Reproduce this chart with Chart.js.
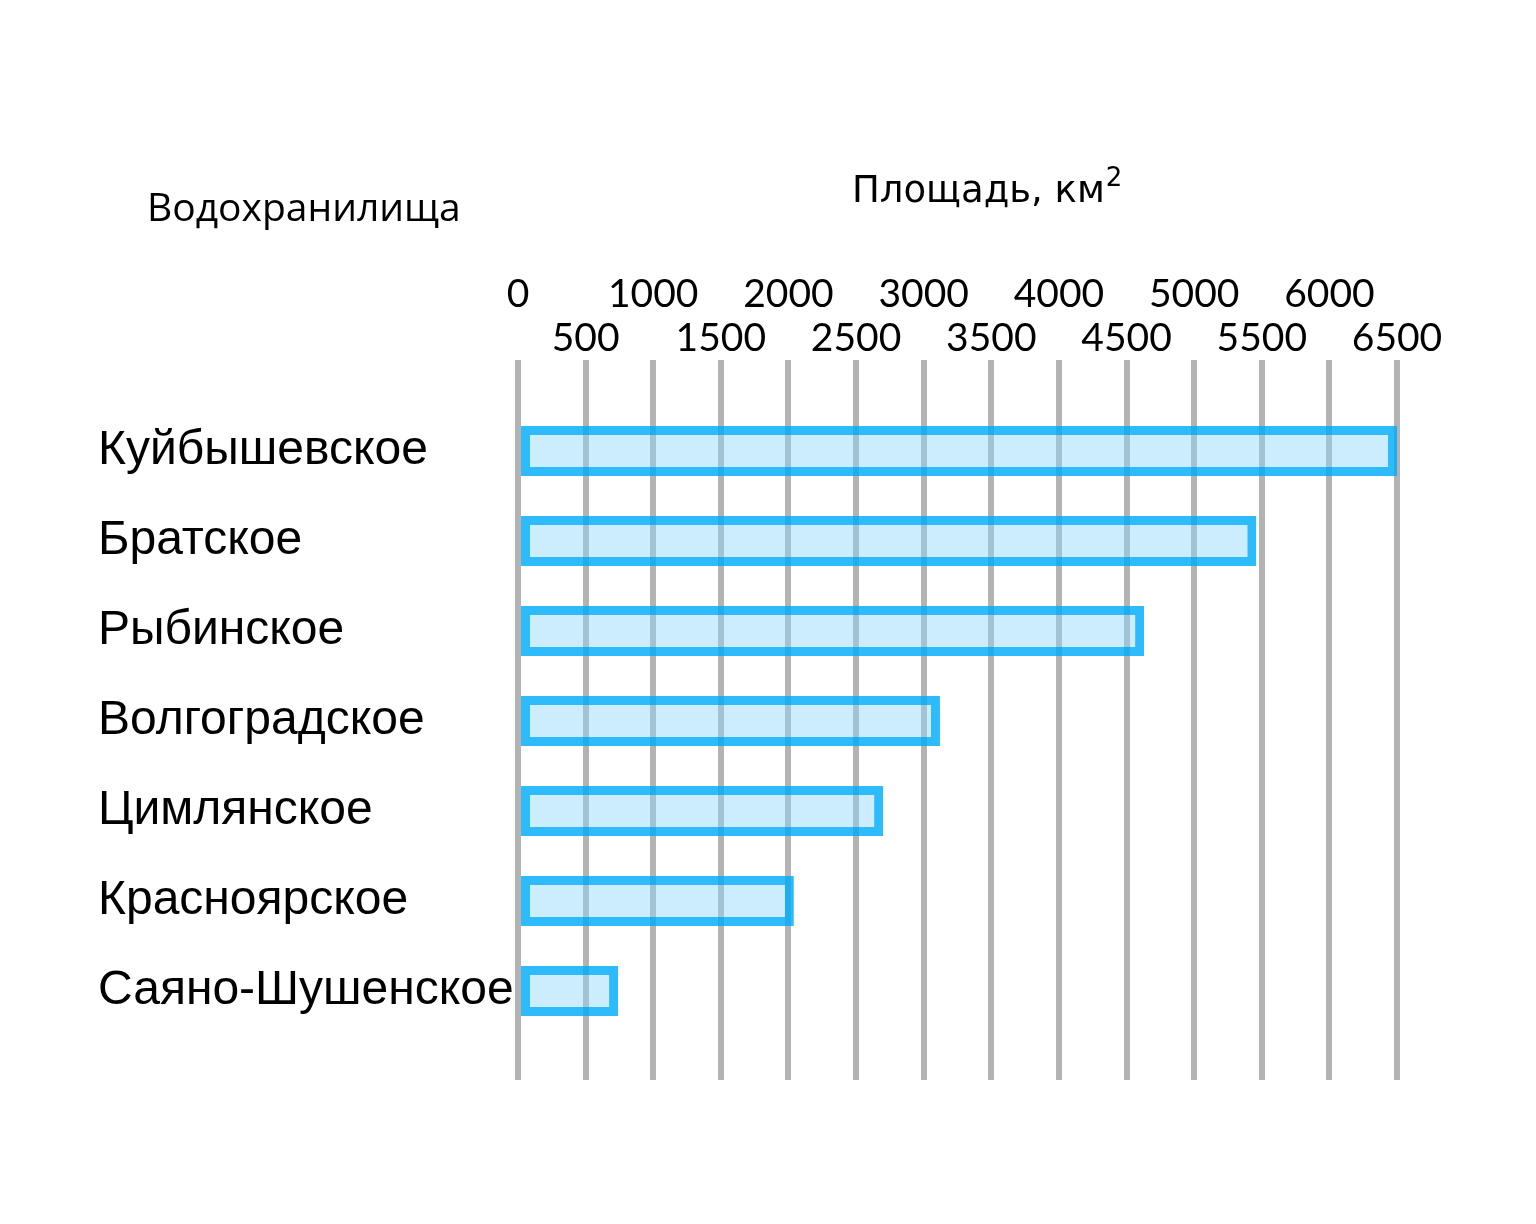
<!DOCTYPE html>
<html>
<head>
<meta charset="utf-8">
<script src="https://cdn.jsdelivr.net/npm/chart.js@4"></script>
<style>
  body { margin: 0; background: #fff; }
  #wrap { width: 1536px; height: 1224px; }
</style>
</head>
<body>
<div id="wrap"><canvas id="chart"></canvas></div>
<script>
const reservoirs = [
  "Куйбышевское",
  "Братское",
  "Рыбинское",
  "Волгоградское",
  "Цимлянское",
  "Красноярское",
  "Саяно-Шушенское",
];
const areas = [6500, 5460, 4630, 3120, 2700, 2040, 740];
const tickValues = [0, 500, 1000, 1500, 2000, 2500, 3000, 3500, 4000, 4500, 5000, 5500, 6000, 6500];

const gridGray = "#b3b3b3";

// headers above the chart
const headers = {
  id: "headers",
  afterDraw(chart) {
    const ctx = chart.ctx;
    ctx.save();
    ctx.fillStyle = "#000";
    ctx.textBaseline = "alphabetic";
    ctx.textAlign = "left";
    ctx.font = "39px 'Open Sans'";
    ctx.fillText("Водохранилища", 147, 221);

    ctx.font = "37px 'DejaVu Sans'";
    const main = "Площадь, км";
    const w = ctx.measureText(main).width;
    const x0 = 852;
    ctx.fillText(main, x0, 202);
    ctx.font = "26px 'DejaVu Sans'";
    ctx.fillText("2", x0 + w + 1, 186);
    ctx.restore();
  },
};

new Chart(document.getElementById("chart"), {
  type: "bar",
  data: {
    labels: reservoirs,
    datasets: [
      {
        data: areas,
        backgroundColor: "rgba(140, 215, 250, 0.45)",
        borderColor: "rgba(0, 172, 250, 0.82)",
        borderWidth: 9,
        borderSkipped: false,
        inflateAmount: 0,
        barThickness: 50,
      },
    ],
  },
  options: {
    indexAxis: "y",
    responsive: true,
    maintainAspectRatio: false,
    animation: false,
    layout: { padding: { left: 98, right: 139, top: 0, bottom: 144 } },
    plugins: {
      legend: { display: false },
      tooltip: { enabled: false },
    },
    scales: {
      x: {
        position: "top",
        min: 0,
        max: 6500,
        afterBuildTicks(scale) {
          scale.ticks = tickValues.map((v) => ({ value: v }));
        },
        afterFit(scale) {
          scale.height = 406;
        },
        border: { display: false },
        grid: {
          color: gridGray,
          lineWidth: 6,
          tickLength: 46,
          drawTicks: true,
        },
        ticks: {
          padding: 0,
          color: "#000",
          maxRotation: 0,
          autoSkip: false,
          font: { family: "Lato", size: 39, lineHeight: 44 / 39 },
          callback: function (val) {
            return val % 1000 === 0 ? [String(val), ""] : ["", String(val)];
          },
        },
      },
      x2: {
        position: "bottom",
        axis: "x",
        min: 0,
        max: 6500,
        afterBuildTicks(scale) {
          scale.ticks = tickValues.map((v) => ({ value: v }));
        },
        afterFit(scale) {
          scale.height = 44;
        },
        border: { display: false },
        grid: {
          color: gridGray,
          lineWidth: 6,
          tickLength: 44,
          drawOnChartArea: false,
        },
        ticks: { display: false },
      },
      y: {
        afterFit(scale) {
          scale.width = 420;
        },
        border: { display: false },
        grid: { display: false },
        ticks: {
          crossAlign: "far",
          color: "#000",
          padding: 0,
          font: { family: "Liberation Sans", size: 48 },
        },
      },
    },
  },
  plugins: [headers],
});
</script>
</body>
</html>
